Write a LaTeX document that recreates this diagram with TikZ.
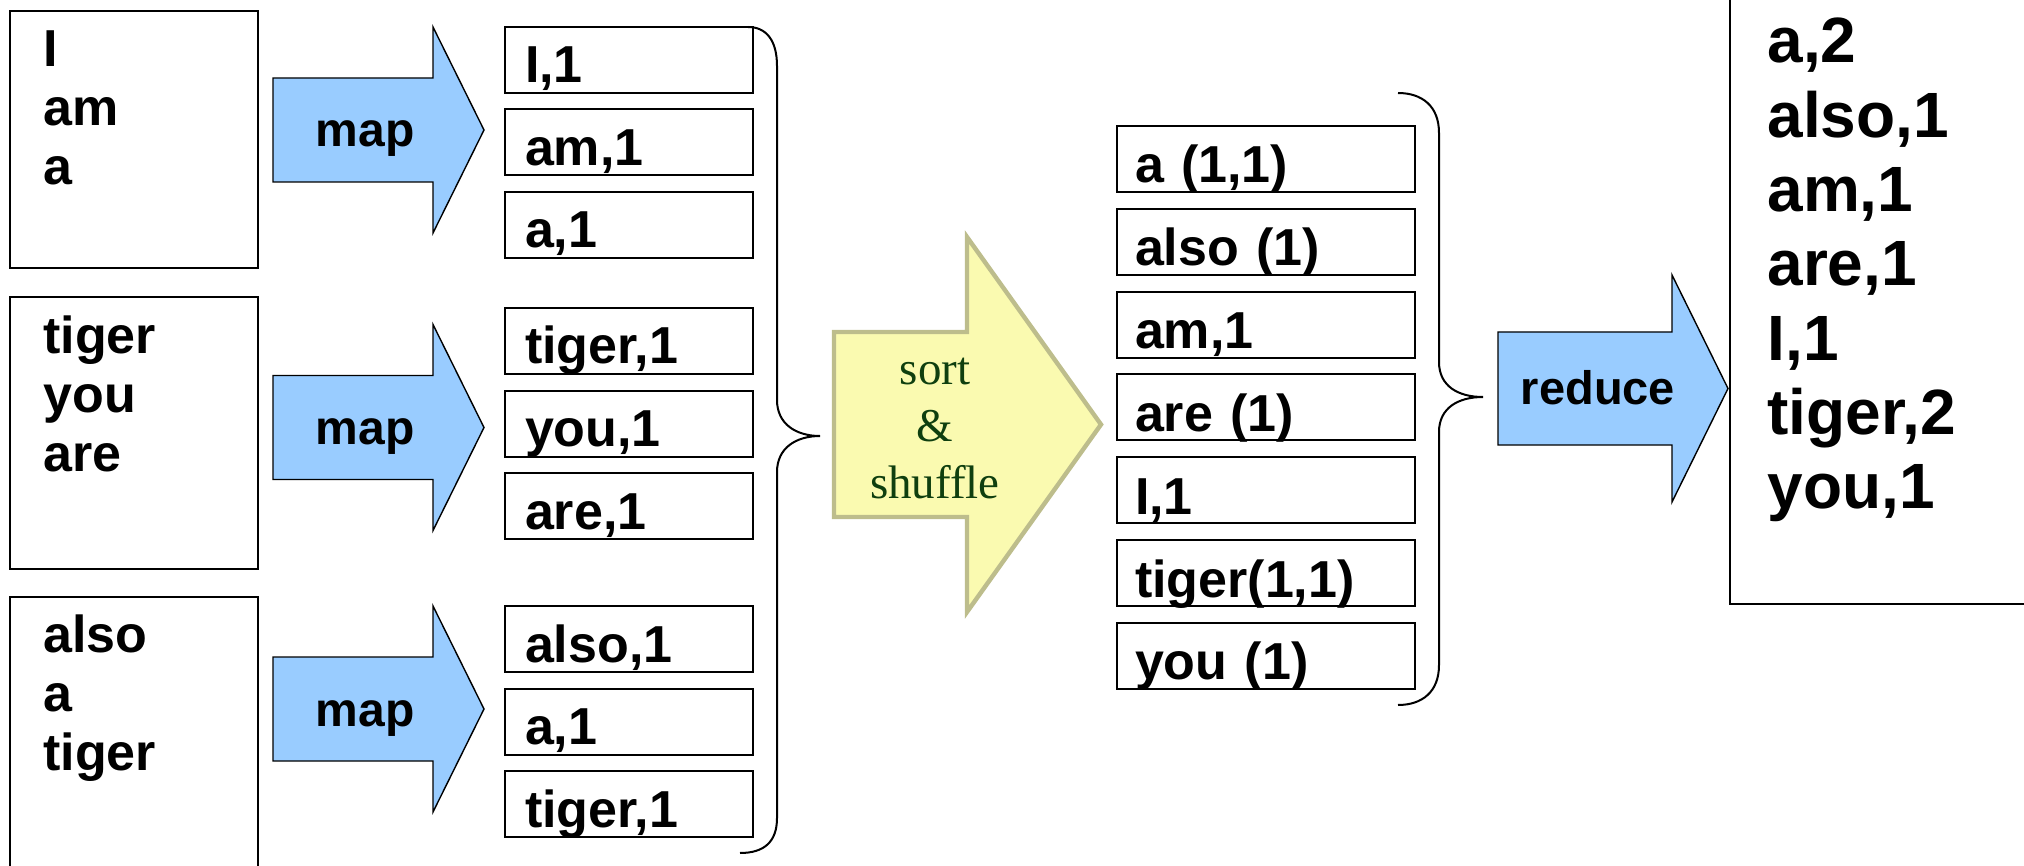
\documentclass[tikz,border=0pt]{standalone}
\usepackage{fontspec}
\setmainfont{Liberation Sans}
\newfontfamily\shufflefont{Liberation Serif}
\usepackage{tikz}
\usetikzlibrary{positioning}
\definecolor{mapblue}{HTML}{99CCFF}
\definecolor{sortyellow}{HTML}{FAFAB0}
\definecolor{sortedge}{HTML}{BDBD8C}
\definecolor{sortgreen}{HTML}{0F3F0F}
\tikzset{
  inbox/.style = {draw=black,line width=1pt,minimum width=124pt,inner sep=0pt,anchor=north west},
  word/.style = {font=\bfseries\fontsize{26}{30}\selectfont,anchor=base west,inner sep=0pt},
  kvbox/.style = {draw=black,line width=1pt,anchor=north west,minimum height=33pt,
    inner xsep=10pt,inner ysep=0pt,outer sep=0pt,text width=104pt,align=left,
    text height=23pt,text depth=0pt,font=\bfseries\fontsize{26}{30}\selectfont},
  groupbox/.style = {kvbox,inner xsep=9pt,text width=131pt,text height=24pt},
  maparrow/.style = {fill=mapblue,draw=black,line width=0.7pt,line join=miter},
  maplabel/.style = {font=\bfseries\fontsize{24}{28}\selectfont,anchor=base,inner sep=0pt},
  sortarrow/.style = {fill=sortyellow,draw=sortedge,line width=2.2pt},
  sortlabel/.style = {font=\shufflefont\fontsize{23.5}{28.5}\selectfont,text=sortgreen,align=center,inner sep=0pt},
  brace/.style = {draw=black,line width=1pt},
  outword/.style = {font=\bfseries\fontsize{32}{37}\selectfont,anchor=base west,inner sep=0pt}
}
\begin{document}
\begin{tikzpicture}[x=0.5pt,y=-0.5pt]
  \useasboundingbox (0,0) rectangle (2024,866);
  % input splits
  \node[inbox,minimum height=128.5pt] (in1) at (9,10) {};
  \node[inbox,minimum height=136pt] (in2) at (9,296) {};
  \node[inbox,minimum height=150pt] (in3) at (9,596) {};
  \foreach \w [count=\i] in {I,am,a}
    \node[word] (wa\i) at ([xshift=17pt,yshift={-28.5pt-(\i-1)*29.5pt}]in1.north west) {\w};
  \foreach \w [count=\i] in {tiger,you,are}
    \node[word] (wb\i) at ([xshift=17pt,yshift={-28.5pt-(\i-1)*29.5pt}]in2.north west) {\w};
  \foreach \w [count=\i] in {also,a,tiger}
    \node[word] (wc\i) at ([xshift=17pt,yshift={-28pt-(\i-1)*29.5pt}]in3.north west) {\w};

  % map
  \foreach \c [count=\i] in {130,427.5,709} {
    \draw[maparrow] (273,\c-52) -- (433,\c-52) -- (433,\c-103) -- (484,\c)
      -- (433,\c+103) -- (433,\c+52) -- (273,\c+52) -- cycle;
    \node[maplabel] (map\i) at (365,\c+17) {map};
  }

  % map output
  \node[kvbox] (k1) at (505,27) {I,1};
  \node[kvbox,below=8.25pt of k1] (k2) {am,1};
  \node[kvbox,below=8.25pt of k2] (k3) {a,1};
  \node[kvbox] (k4) at (505,308) {tiger,1};
  \node[kvbox,below=8.25pt of k4] (k5) {you,1};
  \node[kvbox,below=8.25pt of k5] (k6) {are,1};
  \node[kvbox] (k7) at (505,606) {also,1};
  \node[kvbox,below=8.25pt of k7] (k8) {a,1};
  \node[kvbox,below=8.25pt of k8] (k9) {tiger,1};

  \draw[brace] (748,27) .. controls (766,27) and (777,40) .. (777,66) -- (777,400)
    .. controls (777,424) and (796,436) .. (820,436)
    .. controls (796,436) and (777,448) .. (777,472) -- (777,818)
    .. controls (777,842) and (764,853) .. (740,853);

  % sort & shuffle
  \draw[sortarrow] (834,332) -- (967,332) -- (967,237) -- (1101,424.5)
    -- (967,612) -- (967,517) -- (834,517) -- cycle;
  \node[sortlabel] (sortlbl) at (935,428) {sort\\\&\\shuffle};

  \node[groupbox] (g1) at (1117,126) {a (1,1)};
  \node[groupbox,below=8.4pt of g1] (g2) {also (1)};
  \node[groupbox,below=8.4pt of g2] (g3) {am,1};
  \node[groupbox,below=8.4pt of g3] (g4) {are (1)};
  \node[groupbox,below=8.4pt of g4] (g5) {I,1};
  \node[groupbox,below=8.4pt of g5] (g6) {tiger(1,1)};
  \node[groupbox,below=8.4pt of g6] (g7) {you (1)};

  \draw[brace] (1398,93) .. controls (1422,93) and (1439,106) .. (1439,133) -- (1439,362)
    .. controls (1439,386) and (1458,397) .. (1483,397)
    .. controls (1458,397) and (1439,408) .. (1439,432) -- (1439,665)
    .. controls (1439,692) and (1422,705) .. (1398,705);

  % reduce
  \draw[maparrow] (1498,332) -- (1672,332) -- (1672,275) -- (1728,388.5)
    -- (1672,502) -- (1672,445) -- (1498,445) -- cycle;
  \node[maplabel,font=\bfseries\fontsize{23.5}{28}\selectfont] (reducelbl) at (1598,404) {reduce};

  \node[draw=black,line width=1pt,anchor=south west,minimum width=170pt,
    minimum height=320pt,inner sep=0pt] (result) at (1729,605) {};
  \foreach \w [count=\i] in {{a,2},{also,1},{am,1},{are,1},{I,1},{tiger,2},{you,1}}
    \node[outword] (r\i) at (1767,{63+74.3*(\i-1)}) {\w};
\end{tikzpicture}
\end{document}
